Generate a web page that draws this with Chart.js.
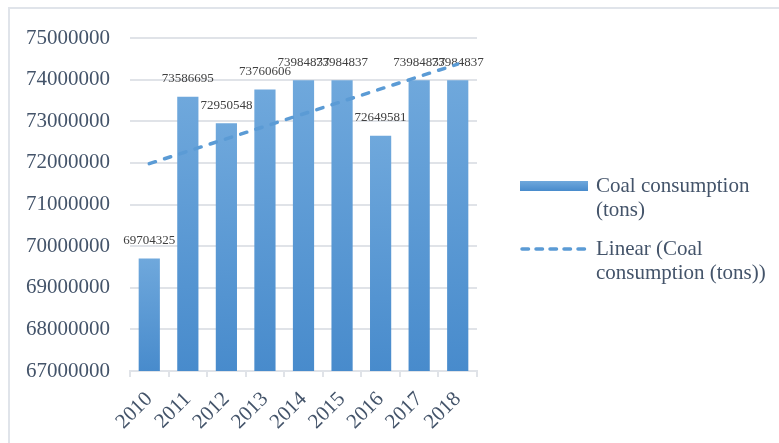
<!DOCTYPE html>
<html>
<head>
<meta charset="utf-8">
<script src="https://cdn.jsdelivr.net/npm/chart.js@4/dist/chart.umd.min.js"></script>
<style>
  html, body { margin: 0; padding: 0; background: #fff; overflow: hidden; }
  #wrap { position: relative; width: 779px; height: 443px; }
  #frame {
    position: absolute; left: 8px; top: 7px; width: 800px; height: 500px;
    border-top: 2px solid #e0e4ea; border-left: 2px solid #e0e4ea;
  }
  canvas { position: absolute; left: 0; top: 0; }
</style>
</head>
<body>
<div id="wrap">
  <div id="frame"></div>
  <canvas id="coalChart" width="779" height="443"></canvas>
</div>
<script>
// Coal consumption per year (tons)
const years = ['2010', '2011', '2012', '2013', '2014', '2015', '2016', '2017', '2018'];
const coalTons = [69704325, 73586695, 72950548, 73760606, 73984837, 73984837, 72649581, 73984837, 73984837];

// Linear trend, start and end
const trendYears = ['2010', '2018'];
const trendTons = [71980871, 74372707];

// Y axis range
const yMin = 67000000;
const yMax = 75000000;
const yStep = 1000000;

const serif = '"Liberation Serif", "Times New Roman", serif';
const textColor = '#44546a';
const gridColor = '#e0e3e8';
const lineBlue = '#5b9bd5';

function barGradient(ctx, top, bottom) {
  const g = ctx.createLinearGradient(0, top, 0, bottom);
  g.addColorStop(0, '#6fa8dc');
  g.addColorStop(1, '#488bcc');
  return g;
}

// value labels above each bar
const barLabels = {
  id: 'barLabels',
  afterDatasetDraw(chart, args) {
    if (args.index !== 0) return;
    const ctx = chart.ctx;
    ctx.save();
    ctx.font = '13px ' + serif;
    ctx.fillStyle = '#404040';
    ctx.textAlign = 'center';
    ctx.textBaseline = 'middle';
    args.meta.data.forEach((bar, i) => {
      ctx.fillText(String(coalTons[i]), bar.x, bar.y - 18);
    });
    ctx.restore();
  }
};

// legend on the right side, two-line entries
const sideLegend = {
  id: 'sideLegend',
  afterDraw(chart) {
    const ctx = chart.ctx;
    const area = chart.chartArea;
    const x0 = area.right + 43;
    const x1 = x0 + 68;
    const tx = x1 + 8;
    ctx.save();
    ctx.font = '21px ' + serif;
    ctx.textBaseline = 'middle';

    ctx.fillStyle = barGradient(ctx, 181, 191);
    ctx.fillRect(x0, 181, x1 - x0, 10);
    ctx.fillStyle = textColor;
    ctx.fillText('Coal consumption', tx, 186);
    ctx.fillText('(tons)', tx, 210);

    ctx.strokeStyle = lineBlue;
    ctx.lineWidth = 3.5;
    ctx.lineCap = 'round';
    ctx.setLineDash([6.5, 7.5]);
    ctx.beginPath();
    ctx.moveTo(x0 + 2, 249);
    ctx.lineTo(x1, 249);
    ctx.stroke();
    ctx.setLineDash([]);
    ctx.fillText('Linear (Coal', tx, 249);
    ctx.fillText('consumption (tons))', tx, 273);
    ctx.restore();
  }
};

new Chart(document.getElementById('coalChart'), {
  type: 'bar',
  data: {
    labels: years,
    datasets: [{
      label: 'Coal consumption (tons)',
      data: coalTons,
      order: 2,
      barPercentage: 0.55,
      categoryPercentage: 1,
      backgroundColor(c) {
        const chart = c.chart;
        if (!chart.chartArea || typeof c.raw !== 'number') return lineBlue;
        const top = chart.scales.y.getPixelForValue(c.raw);
        return barGradient(chart.ctx, top, chart.chartArea.bottom);
      }
    }, {
      type: 'line',
      label: 'Linear (Coal consumption (tons))',
      data: trendYears.map((y, i) => ({ x: y, y: trendTons[i] })),
      order: 1,
      borderColor: lineBlue,
      borderWidth: 3.5,
      borderDash: [6.5, 9.5],
      borderCapStyle: 'round',
      pointRadius: 0,
      fill: false
    }]
  },
  options: {
    responsive: false,
    animation: false,
    events: [],
    layout: { padding: { left: 0, top: 38, right: 302, bottom: 0 } },
    plugins: {
      legend: { display: false },
      tooltip: { enabled: false }
    },
    scales: {
      x: {
        afterFit(s) { s.height = 72; },
        grid: {
          drawOnChartArea: false,
          drawTicks: true,
          tickLength: 6,
          color: gridColor,
          lineWidth: 2
        },
        border: { color: gridColor, width: 2 },
        ticks: {
          autoSkip: false,
          maxRotation: 45,
          minRotation: 45,
          padding: 10,
          color: textColor,
          font: { family: serif, size: 21 }
        }
      },
      y: {
        min: yMin,
        max: yMax,
        afterFit(s) { s.width = 130; },
        grid: { color: gridColor, lineWidth: 2, drawTicks: false },
        border: { display: false },
        ticks: {
          stepSize: yStep,
          padding: 20,
          color: textColor,
          font: { family: serif, size: 21 },
          callback: v => String(v)
        }
      }
    }
  },
  plugins: [barLabels, sideLegend]
});
</script>
</body>
</html>
